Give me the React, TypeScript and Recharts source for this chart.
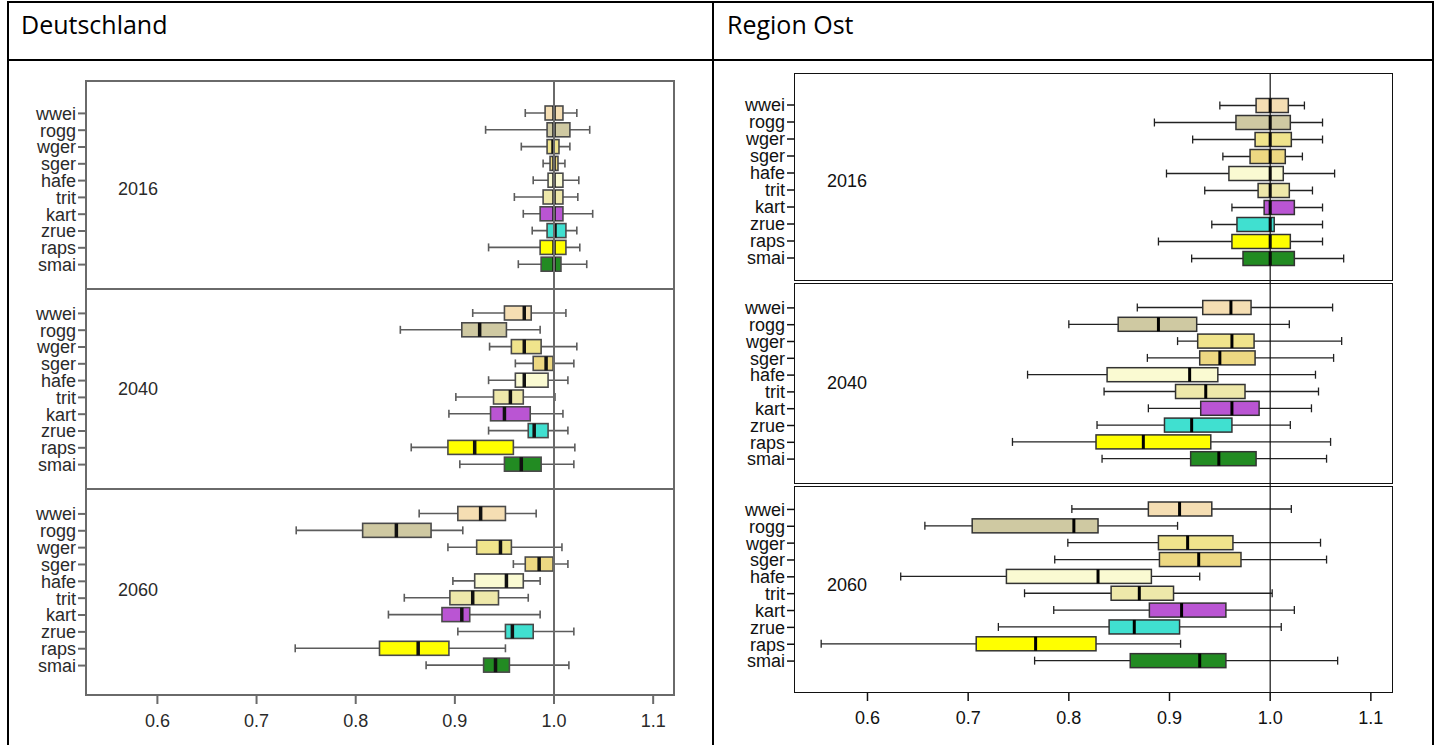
import { Bar, ComposedChart, ReferenceLine, XAxis, YAxis } from "recharts";

const CROPS = ["wwei", "rogg", "wger", "sger", "hafe", "trit", "kart", "zrue", "raps", "smai"];
const CROP_COLORS = [
  "#F5DEB3", "#CFC9A2", "#F0E48C", "#EDD882", "#FAFAD2",
  "#EEE8AA", "#BA55D3", "#40E0D0", "#FFFF00", "#228B22",
];
const X_TICKS = [0.6, 0.7, 0.8, 0.9, 1.0, 1.1];
const X_DOMAIN = [0.528, 1.121];
const YEARS = ["2016", "2040", "2060"];

// [min, q1, median, q3, max] per crop
const DE_2016 = [
  [0.971, 0.991, 1.0, 1.009, 1.023],
  [0.931, 0.993, 1.0, 1.016, 1.036],
  [0.967, 0.993, 0.999, 1.005, 1.016],
  [0.989, 0.996, 1.0, 1.004, 1.011],
  [0.979, 0.994, 1.0, 1.009, 1.025],
  [0.96, 0.989, 1.0, 1.009, 1.024],
  [0.969, 0.986, 1.0, 1.009, 1.039],
  [0.978, 0.993, 1.001, 1.012, 1.023],
  [0.934, 0.986, 1.0, 1.012, 1.026],
  [0.964, 0.987, 1.0, 1.007, 1.033],
];
const DE_2040 = [
  [0.918, 0.95, 0.97, 0.977, 1.012],
  [0.845, 0.907, 0.925, 0.952, 0.986],
  [0.935, 0.957, 0.97, 0.987, 1.023],
  [0.961, 0.979, 0.992, 0.999, 1.02],
  [0.934, 0.961, 0.97, 0.994, 1.014],
  [0.901, 0.939, 0.956, 0.969, 1.001],
  [0.894, 0.936, 0.95, 0.976, 1.009],
  [0.934, 0.974, 0.98, 0.994, 1.014],
  [0.856, 0.893, 0.92, 0.959, 1.021],
  [0.905, 0.95, 0.967, 0.987, 1.02],
];
const DE_2060 = [
  [0.864, 0.903, 0.926, 0.951, 0.982],
  [0.74, 0.807, 0.841, 0.876, 0.908],
  [0.893, 0.922, 0.946, 0.957, 1.008],
  [0.959, 0.971, 0.985, 0.999, 1.014],
  [0.898, 0.92, 0.952, 0.969, 0.986],
  [0.849, 0.895, 0.918, 0.944, 0.974],
  [0.833, 0.887, 0.907, 0.915, 0.986],
  [0.903, 0.951, 0.958, 0.979, 1.02],
  [0.739, 0.824, 0.863, 0.894, 0.951],
  [0.871, 0.929, 0.941, 0.955, 1.015],
];
const OST_2016 = [
  [0.95, 0.986, 1.0, 1.018, 1.034],
  [0.885, 0.966, 1.0, 1.02, 1.052],
  [0.923, 0.985, 1.0, 1.021, 1.052],
  [0.953, 0.98, 1.0, 1.015, 1.032],
  [0.897, 0.959, 1.0, 1.013, 1.064],
  [0.935, 0.988, 1.0, 1.019, 1.042],
  [0.962, 0.994, 1.0, 1.024, 1.052],
  [0.942, 0.967, 1.0, 1.004, 1.052],
  [0.889, 0.962, 1.0, 1.02, 1.052],
  [0.922, 0.973, 1.0, 1.024, 1.073],
];
const OST_2040 = [
  [0.868, 0.933, 0.961, 0.981, 1.062],
  [0.8, 0.849, 0.889, 0.927, 1.019],
  [0.908, 0.928, 0.962, 0.984, 1.071],
  [0.878, 0.93, 0.95, 0.985, 1.063],
  [0.759, 0.838, 0.92, 0.948, 1.045],
  [0.835, 0.906, 0.936, 0.975, 1.048],
  [0.879, 0.931, 0.962, 0.989, 1.041],
  [0.828, 0.895, 0.922, 0.962, 1.02],
  [0.744, 0.827, 0.874, 0.941, 1.06],
  [0.833, 0.921, 0.949, 0.986, 1.056],
];
const OST_2060 = [
  [0.803, 0.879, 0.91, 0.942, 1.021],
  [0.657, 0.704, 0.805, 0.829, 0.908],
  [0.799, 0.889, 0.918, 0.963, 1.05],
  [0.786, 0.89, 0.929, 0.971, 1.056],
  [0.633, 0.738, 0.829, 0.882, 0.93],
  [0.756, 0.842, 0.87, 0.904, 1.002],
  [0.785, 0.88, 0.912, 0.956, 1.024],
  [0.73, 0.84, 0.865, 0.91, 1.011],
  [0.554, 0.708, 0.767, 0.827, 0.911],
  [0.766, 0.861, 0.93, 0.956, 1.067],
];

const FONT = "'Liberation Sans', Arial, sans-serif";

type Theme = {
  frame: string;
  frameW: number;
  refLine: string;
  refW: number;
  whisker: string;
  whiskerW: number;
  boxStroke: string;
  boxW: number;
  median: string;
  medianW: number;
  text: string;
};

const DE_THEME: Theme = {
  frame: "#6a6a6a", frameW: 2, refLine: "#6a6a6a", refW: 2,
  whisker: "#5c5c5c", whiskerW: 1.6, boxStroke: "#4a4a4a", boxW: 1.6,
  median: "#111", medianW: 3.5, text: "#2a2a2a",
};
const OST_THEME: Theme = {
  frame: "#111", frameW: 1.5, refLine: "#111", refW: 1.2,
  whisker: "#222", whiskerW: 1.3, boxStroke: "#333", boxW: 1.5,
  median: "#000", medianW: 3, text: "#111",
};

function makeRows(stats: number[][]) {
  return CROPS.map((name, i) => {
    const [low, q1, med, q3, high] = stats[i];
    return { name, range: [low, high], low, q1, med, q3, high, color: CROP_COLORS[i] };
  });
}

const boxShape = (theme: Theme) => (props: any) => {
  const { x, y, width, height, payload } = props;
  if (payload == null) return <g />;
  const { low, high, q1, med, q3, color } = payload;
  const px = (v: number) => x + ((v - low) / (high - low)) * width;
  const cy = y + height / 2;
  const cap = 4;
  return (
    <g>
      <line x1={x} x2={x + width} y1={cy} y2={cy} stroke={theme.whisker} strokeWidth={theme.whiskerW} />
      <line x1={x} x2={x} y1={cy - cap} y2={cy + cap} stroke={theme.whisker} strokeWidth={theme.whiskerW} />
      <line x1={x + width} x2={x + width} y1={cy - cap} y2={cy + cap} stroke={theme.whisker} strokeWidth={theme.whiskerW} />
      <rect x={px(q1)} y={y} width={px(q3) - px(q1)} height={height} fill={color} stroke={theme.boxStroke} strokeWidth={theme.boxW} />
      <line x1={px(med)} x2={px(med)} y1={y} y2={y + height} stroke={theme.median} strokeWidth={theme.medianW} />
    </g>
  );
};

type PanelProps = {
  stats: number[][];
  theme: Theme;
  left: number;
  top: number;
  plotW: number;
  plotH: number;
  padTop: number;
  padBottom: number;
  showAxis: boolean;
};

const Y_W = 80;
const AXIS_H = 45;

function BoxPanel({ stats, theme, left, top, plotW, plotH, padTop, padBottom, showAxis }: PanelProps) {
  const rows = makeRows(stats);
  const h = plotH + (showAxis ? AXIS_H : 0);
  return (
    <div style={{ position: "absolute", left: left - Y_W, top }}>
      <ComposedChart
        layout="vertical"
        width={Y_W + plotW}
        height={h}
        data={rows}
        margin={{ top: 0, right: 0, bottom: 0, left: 0 }}
      >
        <XAxis
          type="number"
          domain={X_DOMAIN}
          allowDataOverflow
          hide={!showAxis}
          ticks={X_TICKS}
          height={AXIS_H}
          axisLine={false}
          tickSize={9}
          tickMargin={10}
          tickLine={{ stroke: theme.frame, strokeWidth: theme.frameW }}
          tick={{ fontSize: 18, fill: theme.text, fontFamily: FONT }}
          tickFormatter={(v: number) => v.toFixed(1)}
        />
        <YAxis
          type="category"
          dataKey="name"
          width={Y_W}
          interval={0}
          tickSize={8}
          tickMargin={2}
          axisLine={false}
          padding={{ top: padTop, bottom: padBottom }}
          tickLine={{ stroke: theme.frame, strokeWidth: theme.frameW }}
          tick={{ fontSize: 18, fill: theme.text, fontFamily: FONT }}
        />
        <ReferenceLine x={1} stroke={theme.refLine} strokeWidth={theme.refW} />
        <Bar dataKey="range" barSize={14} shape={boxShape(theme)} isAnimationActive={false} />
      </ComposedChart>
    </div>
  );
}

type ChartLayout = {
  frameLeft: number;
  plotW: number;
  panels: { top: number; h: number; padTop: number; padBottom: number; yearY: number }[];
};

const DE_LAYOUT: ChartLayout = {
  frameLeft: 86,
  plotW: 588,
  panels: [
    { top: 81, h: 208, padTop: 24, padBottom: 16, yearY: 189 },
    { top: 289, h: 200, padTop: 16, padBottom: 16, yearY: 389 },
    { top: 489, h: 206, padTop: 16.5, padBottom: 21, yearY: 590 },
  ],
};
const OST_LAYOUT: ChartLayout = {
  frameLeft: 795,
  plotW: 597,
  panels: [
    { top: 74, h: 208, padTop: 22.5, padBottom: 15.5, yearY: 181 },
    { top: 282, h: 203, padTop: 17.5, padBottom: 17.5, yearY: 383 },
    { top: 485, h: 207, padTop: 16, padBottom: 22.5, yearY: 585 },
  ],
};

function BoxChart({ data, layout, theme, gap }: { data: number[][][]; layout: ChartLayout; theme: Theme; gap: number }) {
  return (
    <>
      {layout.panels.map((p, i) => (
        <BoxPanel
          key={"p" + i}
          stats={data[i]}
          theme={theme}
          left={layout.frameLeft}
          top={p.top}
          plotW={layout.plotW}
          plotH={p.h}
          padTop={p.padTop}
          padBottom={p.padBottom}
          showAxis={i === layout.panels.length - 1}
        />
      ))}
      {layout.panels.map((p, i) => {
        const t = p.top + (i > 0 ? gap : 0);
        const b = p.top + p.h - (i < layout.panels.length - 1 ? gap : 0);
        return (
          <div
            key={"f" + i}
            style={{
              position: "absolute",
              left: layout.frameLeft - theme.frameW / 2,
              top: t - theme.frameW / 2,
              width: layout.plotW + theme.frameW,
              height: b - t + theme.frameW,
              boxSizing: "border-box",
              border: `${theme.frameW}px solid ${theme.frame}`,
              pointerEvents: "none",
            }}
          />
        );
      })}
      {layout.panels.map((p, i) => (
        <div
          key={"y" + i}
          style={{
            position: "absolute",
            left: layout.frameLeft + 52 - 30,
            width: 60,
            top: p.yearY - 11,
            lineHeight: "22px",
            textAlign: "center",
            fontSize: 18,
            fontFamily: FONT,
            color: theme.text,
          }}
        >
          {YEARS[i]}
        </div>
      ))}
    </>
  );
}

export default function App() {
  const line = "#000";
  const headStyle = {
    position: "absolute" as const,
    top: 12,
    fontSize: 25,
    lineHeight: 1,
    fontFamily: "'Open Sans', sans-serif",
    color: "#000",
  };
  return (
    <div
      style={{
        position: "absolute",
        left: 0,
        top: 0,
        width: 1441,
        height: 745,
        overflow: "hidden",
        background: "#fff",
      }}
    >
      {/* table borders */}
      <div style={{ position: "absolute", left: 7, top: 1, width: 1427, height: 760, border: `2px solid ${line}`, boxSizing: "border-box" }} />
      <div style={{ position: "absolute", left: 712, top: 1, width: 2, height: 760, background: line }} />
      <div style={{ position: "absolute", left: 7, top: 59, width: 1427, height: 2, background: line }} />
      <div style={{ ...headStyle, left: 21 }}>Deutschland</div>
      <div style={{ ...headStyle, left: 727 }}>Region Ost</div>

      <BoxChart data={[DE_2016, DE_2040, DE_2060]} layout={DE_LAYOUT} theme={DE_THEME} gap={0} />
      <BoxChart data={[OST_2016, OST_2040, OST_2060]} layout={OST_LAYOUT} theme={OST_THEME} gap={1.5} />
    </div>
  );
}
